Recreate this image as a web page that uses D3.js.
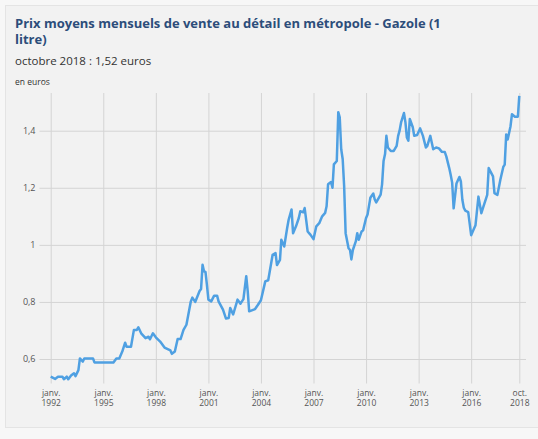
<!DOCTYPE html>
<html>
<head>
<meta charset="utf-8">
<script src="https://cdn.jsdelivr.net/npm/d3@7"></script>
<style>
  body { margin: 0; background: #f7f7f7; font-family: "Open Sans", sans-serif; }
  svg { display: block; }
</style>
</head>
<body>
<svg id="chart" width="538" height="439"></svg>
<script>
// monthly average retail price of diesel
const dates = [
  "1992-01","1992-04","1992-06","1992-09","1992-10","1992-12","1993-01","1993-03","1993-05","1993-06",
  "1993-08","1993-09","1993-11","1993-12","1994-06","1994-07","1995-08","1995-10","1995-12","1996-02",
  "1996-04","1996-05","1996-08","1996-10","1996-12","1997-01","1997-03","1997-06","1997-08","1997-09",
  "1997-11","1998-01","1998-04","1998-07","1998-11","1998-12","1999-02","1999-04","1999-06","1999-08",
  "1999-10","2000-01","2000-02","2000-04","2000-07","2000-08","2000-09","2000-10","2000-11","2000-12",
  "2001-01","2001-03","2001-05","2001-07","2001-08","2001-11","2002-01","2002-03","2002-04","2002-06",
  "2002-09","2002-11","2003-01","2003-03","2003-04","2003-05","2003-09","2003-11","2004-01","2004-04",
  "2004-06","2004-07","2004-09","2004-11","2004-12","2005-02","2005-03","2005-05","2005-07","2005-08",
  "2005-10","2005-11","2006-01","2006-03","2006-04","2006-06","2006-07","2006-09","2006-11","2007-01",
  "2007-03","2007-05","2007-07","2007-09","2007-10","2007-11","2008-01","2008-02","2008-03","2008-05",
  "2008-06","2008-07","2008-08","2008-09","2008-10","2008-11","2009-01","2009-02","2009-03","2009-04",
  "2009-06","2009-07","2009-08","2009-10","2009-11","2010-01","2010-02","2010-04","2010-06","2010-07",
  "2010-08","2010-11","2010-12","2011-01","2011-02","2011-03","2011-04","2011-06","2011-08","2011-10",
  "2011-11","2011-12","2012-01","2012-03","2012-04","2012-05","2012-06","2012-07","2012-09","2012-10",
  "2012-12","2013-02","2013-04","2013-06","2013-07","2013-09","2013-11","2014-01","2014-03","2014-05",
  "2014-07","2014-08","2014-10","2014-11","2014-12","2015-01","2015-03","2015-05","2015-06","2015-07",
  "2015-08","2015-09","2015-11","2016-01","2016-02","2016-04","2016-06","2016-08","2016-09","2016-12",
  "2017-01","2017-04","2017-05","2017-07","2017-09","2017-11","2017-12","2018-01","2018-02","2018-04",
  "2018-05","2018-07","2018-09","2018-10"
];
const prices = [
  0.538,0.530,0.538,0.538,0.529,0.538,0.529,0.542,0.550,0.540,
  0.561,0.602,0.591,0.602,0.602,0.588,0.588,0.602,0.602,0.626,
  0.657,0.643,0.643,0.702,0.702,0.711,0.690,0.673,0.678,0.669,
  0.690,0.676,0.661,0.640,0.630,0.618,0.626,0.670,0.670,0.702,
  0.720,0.802,0.815,0.800,0.838,0.845,0.930,0.907,0.905,0.860,
  0.808,0.802,0.822,0.822,0.802,0.773,0.742,0.744,0.779,0.756,
  0.808,0.794,0.810,0.890,0.837,0.767,0.775,0.790,0.806,0.872,
  0.876,0.905,0.965,0.971,0.929,0.947,1.018,0.994,1.059,1.088,
  1.124,1.041,1.065,1.094,1.118,1.114,1.129,1.047,1.035,1.020,
  1.065,1.076,1.100,1.112,1.135,1.212,1.220,1.200,1.282,1.294,
  1.465,1.447,1.335,1.300,1.206,1.041,0.988,0.982,0.949,0.982,
  1.012,1.041,1.018,1.047,1.051,1.094,1.106,1.165,1.180,1.159,
  1.149,1.176,1.212,1.294,1.318,1.382,1.341,1.329,1.329,1.347,
  1.382,1.400,1.429,1.462,1.429,1.376,1.365,1.441,1.412,1.382,
  1.385,1.408,1.382,1.341,1.347,1.382,1.335,1.341,1.338,1.326,
  1.325,1.310,1.269,1.245,1.218,1.128,1.215,1.238,1.222,1.159,
  1.130,1.120,1.115,1.034,1.046,1.069,1.169,1.111,1.128,1.175,
  1.269,1.240,1.181,1.175,1.228,1.273,1.281,1.387,1.369,1.416,
  1.458,1.449,1.449,1.522
];
const xTicks = ["1992-01","1995-01","1998-01","2001-01","2004-01","2007-01","2010-01","2013-01","2016-01","2018-10"];
const xTickMonth = ["janv.","janv.","janv.","janv.","janv.","janv.","janv.","janv.","janv.","oct."];
const yTicks = [0.6, 0.8, 1.0, 1.2, 1.4];

const title = ["Prix moyens mensuels de vente au détail en métropole - Gazole (1", "litre)"];
const subtitle = "octobre 2018 : 1,52 euros";
const unit = "en euros";

const parseMonth = d3.timeParse("%Y-%m");
const data = dates.map((d, i) => ({ date: parseMonth(d), value: prices[i] }));

const svg = d3.select("#chart");

// card
svg.append("rect")
  .attr("x", 5.5).attr("y", 5.5)
  .attr("width", 560).attr("height", 422)
  .attr("fill", "#f2f2f2")
  .attr("stroke", "#e4e4e4");

// titles
svg.append("g").selectAll("text")
  .data(title)
  .enter().append("text")
    .attr("x", 15)
    .attr("y", (d, i) => 28 + i * 15.5)
    .attr("fill", "#2c4d7a")
    .style("font-size", "13px")
    .style("font-weight", "bold")
    .text(d => d);

svg.append("text")
  .attr("x", 15).attr("y", 64.5)
  .attr("fill", "#333")
  .style("font-size", "11.5px")
  .text(subtitle);

svg.append("text")
  .attr("x", 15).attr("y", 85)
  .attr("fill", "#333")
  .style("font-size", "8.5px")
  .text(unit);

// scales
const x = d3.scaleTime()
  .domain([parseMonth("1992-01"), parseMonth("2018-10")])
  .range([50.7, 519.3]);

const y = d3.scaleLinear()
  .domain([0.6, 1.4])
  .range([359, 130.7]);

const gridTop = 93, gridBottom = 383.5, gridLeft = 39.5, gridRight = 526;

// horizontal grid + labels
const yAxis = svg.append("g")
  .attr("transform", "translate(" + gridLeft + ",0)")
  .call(d3.axisLeft(y)
    .tickValues(yTicks)
    .tickSize(-(gridRight - gridLeft))
    .tickPadding(4)
    .tickFormat(d => d3.format(".1~f")(d).replace(".", ",")));
yAxis.select(".domain").remove();
yAxis.selectAll("line").attr("stroke", "#d4d4d4");
yAxis.selectAll("text")
  .attr("fill", "#555")
  .style("font-size", "9px")
  .style("font-family", "'Open Sans', sans-serif");

// vertical grid
const xAxis = svg.append("g")
  .attr("transform", "translate(0," + gridBottom + ")")
  .call(d3.axisBottom(x)
    .tickValues(xTicks.map(parseMonth))
    .tickSize(-(gridBottom - gridTop))
    .tickFormat(""));
xAxis.select(".domain").remove();
xAxis.selectAll("line").attr("stroke", "#d4d4d4");

// two-line tick labels (month, then year)
const ticks = xAxis.selectAll(".tick");
ticks.append("text")
  .attr("y", 12.5)
  .text((d, i) => xTickMonth[i]);
ticks.append("text")
  .attr("y", 22.5)
  .text(d => d3.timeFormat("%Y")(d));
ticks.selectAll("text")
  .attr("x", 0)
  .attr("text-anchor", "middle")
  .attr("fill", "#555")
  .style("font-size", "8.5px")
  .style("font-family", "'Open Sans', sans-serif");

// price line
const line = d3.line()
  .x(d => x(d.date))
  .y(d => y(d.value));

svg.append("path")
  .datum(data)
  .attr("fill", "none")
  .attr("stroke", "#4fa0e2")
  .attr("stroke-width", 2.5)
  .attr("stroke-linejoin", "round")
  .attr("d", line);
</script>
</body>
</html>
